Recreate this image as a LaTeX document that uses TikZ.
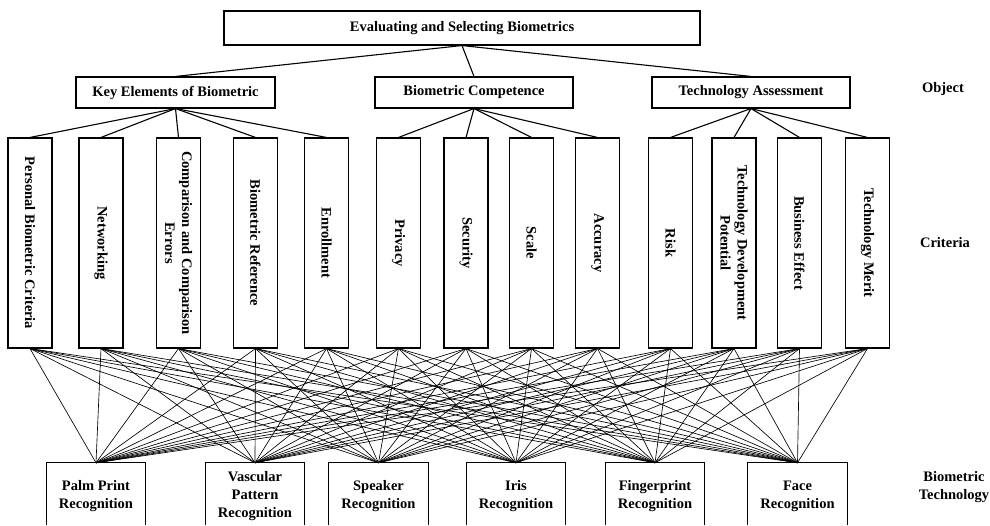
\documentclass[tikz,border=0pt]{standalone}
\usepackage{fontspec}
\setmainfont{Liberation Serif}
\begin{document}
\begin{tikzpicture}[x=1pt,y=1pt,
  txt/.style={font=\fontsize{14.5}{17}\selectfont\bfseries, align=center},
  box/.style={txt, draw, line width=1.1pt, inner sep=0pt},
  crit/.style={box, rotate=-90, minimum width=210pt, minimum height=44pt},
  tech/.style={txt, inner sep=0pt, minimum width=99pt, minimum height=67pt, font=\fontsize{14.5}{18}\selectfont\bfseries},
  side/.style={line width=1.1pt},
  tree/.style={line width=1.1pt},
  fan/.style={line width=0.65pt, black}]
\useasboundingbox (0,0) rectangle (990,525);
\coordinate (bot) at (0,0);
% top
\node[box, minimum width=476pt, minimum height=34pt] (top) at (462,497) {Evaluating and Selecting Biometrics};
% objects
\node[box, minimum width=199pt, minimum height=31pt] (o1) at (175.5,432.5) {Key Elements of Biometric};
\node[box, minimum width=198pt, minimum height=31pt] (o2) at (474,432.5) {Biometric Competence};
\node[box, minimum width=198pt, minimum height=31pt] (o3) at (751,432.5) {Technology Assessment};
% criteria
\node[crit] (c1) at (30,282) {Personal Biometric Criteria};
\node[crit] (c2) at (101,282) {Networking};
\node[crit] (c3) at (178.5,282) {Comparison and Comparison\\Errors};
\node[crit] (c4) at (255.5,282) {Biometric Reference};
\node[crit] (c5) at (326.5,282) {Enrollment};
\node[crit] (c6) at (398.5,282) {Privacy};
\node[crit] (c7) at (466,282) {Security};
\node[crit] (c8) at (531.5,282) {Scale};
\node[crit] (c9) at (597.5,282) {Accuracy};
\node[crit] (c10) at (670.5,282) {Risk};
\node[crit] (c11) at (734,282) {Technology Development\\Potential};
\node[crit] (c12) at (799.5,282) {Business Effect};
\node[crit] (c13) at (867.5,282) {Technology Merit};
% technologies
\node[tech] (b1) at (96,28.5) {Palm Print\\Recognition};
\node[tech] (b2) at (255,28.5) {Vascular\\Pattern\\Recognition};
\node[tech] (b3) at (378.5,28.5) {Speaker\\Recognition};
\node[tech] (b4) at (516,28.5) {Iris\\Recognition};
\node[tech] (b5) at (655,28.5) {Fingerprint\\Recognition};
\node[tech] (b6) at (797.5,28.5) {Face\\Recognition};
\foreach \j in {1,...,6}{
  \draw[side] (b\j.north west |- bot) -- (b\j.north west) -- (b\j.north east) -- (b\j.north east |- bot);
}
% level labels
\node[txt] (lo) at (943,436) {Object};
\node[txt] (lc) at (945,282) {Criteria};
\node[txt, font=\fontsize{14.5}{18}\selectfont\bfseries] (lb) at (954,37.5) {Biometric\\Technology};
% tree connectors
\foreach \k in {1,2,3}{ \draw[tree] (top.south) -- (o\k.north); }
\foreach \i in {1,...,5}{ \draw[tree] (o1.south) -- (c\i.west); }
\foreach \i in {6,...,9}{ \draw[tree] (o2.south) -- (c\i.west); }
\foreach \i in {10,...,13}{ \draw[tree] (o3.south) -- (c\i.west); }
% fan
\foreach \i in {1,...,13}{
  \foreach \j in {1,...,6}{
    \draw[fan] (c\i.east) -- (b\j.north);
  }
}
\end{tikzpicture}
\end{document}
